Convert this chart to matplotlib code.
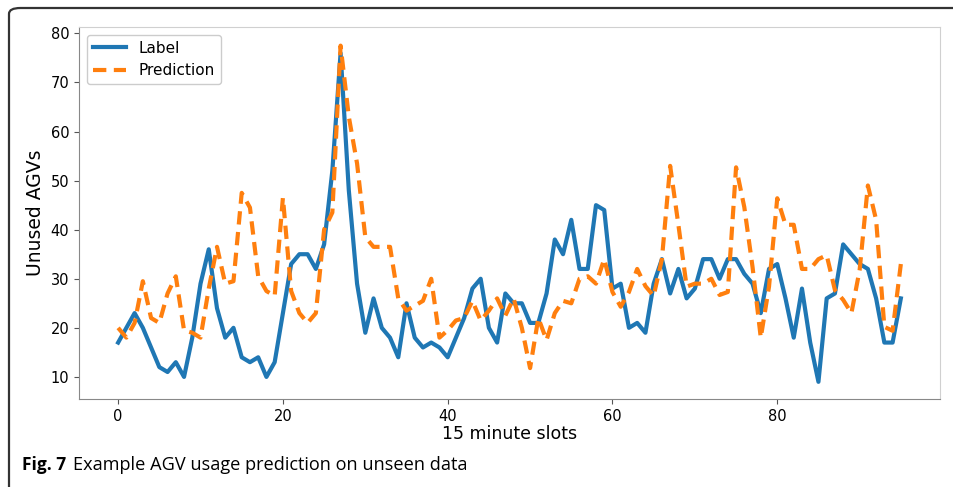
import numpy as np
import matplotlib.pyplot as plt
from matplotlib.patches import FancyBboxPatch

# Values (96 slots of 15 minutes)
label = [17, 20, 23, 20, 16, 12, 11, 13, 10, 18,
         29, 36, 24, 18, 20, 14, 13, 14, 10, 13,
         23, 33, 35, 35, 32, 37, 52, 76, 48, 29,
         19, 26, 20, 18, 14, 25, 18, 16, 17, 16,
         14, 18, 22, 28, 30, 20, 17, 27, 25, 25,
         21, 21, 27, 38, 35, 42, 32, 32, 45, 44,
         28, 29, 20, 21, 19, 29, 34, 27, 32, 26,
         28, 34, 34, 30, 34, 34, 31, 29, 23, 32,
         33, 26, 18, 28, 17, 9, 26, 27, 37, 35,
         33, 32, 26, 17, 17, 26]

prediction = [20, 18, 21, 29.5, 22, 21, 27, 30.5, 19.5, 19,
              18, 28, 36.5, 29, 29.5, 47.5, 44.5, 30.5, 27.5, 26.5,
              46.5, 27.5, 23, 21, 23, 40, 43.5, 77.5, 63, 53.5,
              38.5, 36.5, 36.5, 36.5, 26, 23.5, 24.5, 25.5, 30, 18,
              19.5, 21.5, 22, 25.5, 21.5, 23.5, 26, 22.5, 26, 20,
              11.8, 22, 17.5, 23, 25.5, 25, 30, 30.5, 29, 34,
              27.3, 24.3, 27.3, 32, 28.5, 26.5, 34, 53, 41, 28.4,
              29, 29, 30, 26.7, 27.3, 52.7, 44.6, 32.4, 18, 28.4,
              46.4, 41, 41, 32, 32, 34, 34.8, 27.7, 25.7, 23,
              31.8, 49, 42, 20.2, 19.4, 33]

slots = np.arange(len(label))

fig = plt.figure(figsize=(9.54, 4.87), dpi=100)
ax = fig.add_axes([0.0828, 0.1807, 0.9025, 0.7639])

ax.plot(slots, label, color='#1f77b4', linewidth=3, label='Label')
ax.plot(slots, prediction, color='#ff7f0e', linewidth=3, linestyle='--',
        dashes=(3.2, 1.8), label='Prediction')

ax.set_xlim(-4.75, 99.75)
ax.set_ylim(5.5, 81.3)
ax.set_xticks([0, 20, 40, 60, 80])
ax.set_yticks([10, 20, 30, 40, 50, 60, 70, 80])
ax.tick_params(labelsize=10.5, color='#555555', length=3.5)
ax.set_xlabel('15 minute slots', fontsize=12.5, labelpad=1)
ax.set_ylabel('Unused AGVs', fontsize=13.5, labelpad=4)

for side in ['top', 'right']:
    ax.spines[side].set_color('#d0d0d0')
for side in ['left', 'bottom']:
    ax.spines[side].set_color('#888888')

ax.legend(loc='upper left', fontsize=11, handlelength=2.2,
          borderaxespad=0.5, framealpha=1)

# page frame around the figure, as in the paper
frame = FancyBboxPatch((9 / 954, -0.1), 1.2, 1.1 - 8 / 487,
                       boxstyle='round,pad=0,rounding_size=0.012',
                       transform=fig.transFigure, fill=False,
                       edgecolor='#333333', linewidth=1.6, clip_on=False)
fig.patches.append(frame)

# caption
fig.text(22 / 954, 1 - 465 / 487, 'Fig. 7', fontsize=12.5, fontweight='bold',
         family='Open Sans', va='center', ha='left')
fig.text(73 / 954, 1 - 465 / 487, 'Example AGV usage prediction on unseen data',
         fontsize=13.1, family='Open Sans', va='center', ha='left')

fig.savefig('out.png', dpi=100)
